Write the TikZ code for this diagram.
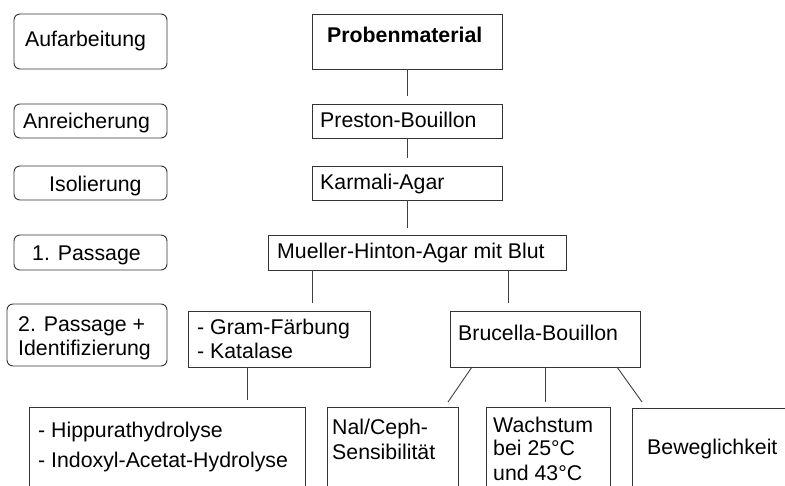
\documentclass[tikz,border=0pt]{standalone}
\usepackage{fontspec}
\setmainfont{Liberation Sans}
\begin{document}
\begin{tikzpicture}[x=1pt,y=-1pt,
  phase/.style={draw=black!80, line width=0.9pt, rounded corners=6pt, inner sep=0pt, outer sep=0pt, anchor=north west},
  box/.style={draw=black!80, line width=0.9pt, inner sep=0pt, outer sep=0pt, anchor=north west},
  txt/.style={anchor=base west, inner sep=0pt, font=\fontsize{21.3}{24}\selectfont},
  link/.style={draw=black!75, line width=0.9pt}]
\useasboundingbox (0,0) rectangle (785,486);
\clip (0,0) rectangle (785,486);
% phase boxes
\node[phase, minimum width=153pt, minimum height=55pt] (p1) at (14,14) {};
\node[phase, minimum width=153pt, minimum height=34pt] (p2) at (14,104) {};
\node[phase, minimum width=153pt, minimum height=34pt] (p3) at (14,166) {};
\node[phase, minimum width=153pt, minimum height=35pt] (p4) at (14,235) {};
\node[phase, minimum width=160pt, minimum height=62pt] (p5) at (7,304) {};
\node[txt] (t1) at (25,47) {Aufarbeitung};
\node[txt] (t2) at (23,129) {Anreicherung};
\node[txt] (t3) at (49,192) {Isolierung};
\node[txt] (t4) at (32,261) {1. Passage};
\node[txt] (t5a) at (18,332) {2. Passage +};
\node[txt] (t5b) at (18,356) {Identifizierung};
% process boxes
\node[box, minimum width=190pt, minimum height=55pt] (probe) at (312,14) {};
\node[box, minimum width=190pt, minimum height=34pt] (pres) at (312,104) {};
\node[box, minimum width=190pt, minimum height=34pt] (kar) at (312,166) {};
\node[box, minimum width=298pt, minimum height=35pt] (mue) at (268,235) {};
\node[box, minimum width=182pt, minimum height=56pt] (gram) at (188,311) {};
\node[box, minimum width=190pt, minimum height=56pt] (bru) at (450,311) {};
\node[box, minimum width=276pt, minimum height=100pt] (hip) at (29,407) {};
\node[box, minimum width=131pt, minimum height=100pt] (nal) at (327,407) {};
\node[box, minimum width=124pt, minimum height=100pt] (wach) at (486,407) {};
\node[box, minimum width=200pt, minimum height=100pt] (bew) at (632,408) {};
\node[txt, font=\fontsize{21.3}{24}\selectfont\bfseries] (tprobe) at (327,43) {Probenmaterial};
\node[txt] (tpres) at (320,128) {Preston-Bouillon};
\node[txt] (tkar) at (320,190) {Karmali-Agar};
\node[txt] (tmue) at (277,259) {Mueller-Hinton-Agar mit Blut};
\node[txt] (tgram1) at (197,335) {- Gram-Färbung};
\node[txt] (tgram2) at (197,359) {- Katalase};
\node[txt] (tbru) at (458,341) {Brucella-Bouillon};
\node[txt] (thip1) at (38,437) {- Hippurathydrolyse};
\node[txt] (thip2) at (38,467) {- Indoxyl-Acetat-Hydrolyse};
\node[txt] (tnal1) at (332,435) {Nal/Ceph-};
\node[txt] (tnal2) at (332,459) {Sensibilität};
\node[txt] (tw1) at (493,432) {Wachstum};
\node[txt] (tw2) at (493,455) {bei 25°C};
\node[txt] (tw3) at (493,480) {und 43°C};
\node[txt] (tbew) at (647,454) {Beweglichkeit};
% connectors
\coordinate (m1) at ([xshift=44pt]mue.south west);
\coordinate (m2) at ([xshift=240pt]mue.south west);
\coordinate (g1) at ([xshift=59pt]gram.south west);
\coordinate (b1) at ([xshift=22pt]bru.south west);
\coordinate (b2) at ([xshift=-23pt]bru.south east);
\coordinate (n1) at ([xshift=-10pt,yshift=5pt]nal.north east);
\coordinate (e1) at ([xshift=10pt,yshift=6pt]bew.north west);
\draw[link, shorten >=8pt] (probe.south) -- (probe.south |- pres.north);
\draw[link, shorten >=8pt] (pres.south) -- (pres.south |- kar.north);
\draw[link, shorten >=7pt] (kar.south) -- (kar.south |- mue.north);
\draw[link, shorten >=8pt] (m1) -- (m1 |- gram.north);
\draw[link, shorten >=8pt] (m2) -- (m2 |- bru.north);
\draw[link, shorten >=7pt] (g1) -- (g1 |- hip.north);
\draw[link] (b1) -- (n1);
\draw[link, shorten >=5pt] (bru.south) -- (bru.south |- wach.north);
\draw[link] (b2) -- (e1);
\end{tikzpicture}
\end{document}
